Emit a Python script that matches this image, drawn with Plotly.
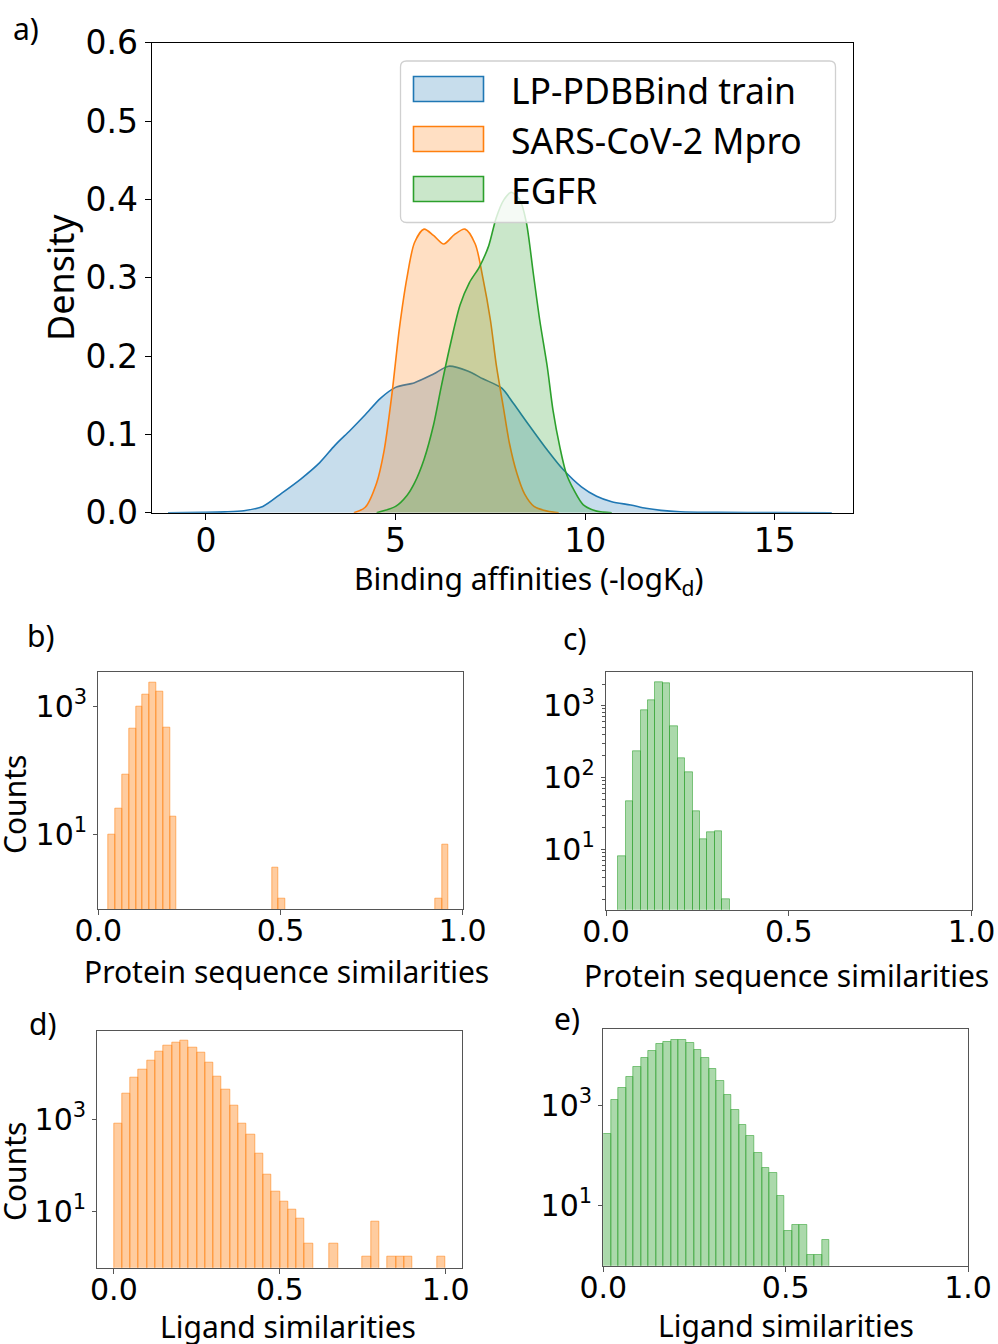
import numpy as np
import plotly.graph_objects as go

W, H = 998, 1344

# ---------------- data: panel a (KDE curves) ----------------
series_names = ["LP-PDBBind train", "SARS-CoV-2 Mpro", "EGFR"]
series_colors = [(31, 119, 180), (255, 127, 14), (44, 160, 44)]

lp_x = [-1.0, 0.0, 0.5, 1.0, 1.5, 2.0, 2.5, 3.0, 3.4, 3.8, 4.2, 4.6, 5.0, 5.5, 6.0, 6.4,
        6.9, 7.3, 7.8, 8.1, 8.5, 9.0, 9.4, 9.9, 10.3, 10.7, 11.2, 11.6, 12.0, 12.5, 13.5, 15.0, 16.5]
lp_y = [0.0, 0.0004, 0.001, 0.0025, 0.008, 0.025, 0.043, 0.064, 0.086, 0.105, 0.125, 0.146,
        0.160, 0.166, 0.177, 0.187, 0.181, 0.171, 0.159, 0.140, 0.113, 0.080, 0.056, 0.033,
        0.021, 0.014, 0.0098, 0.0056, 0.003, 0.0013, 0.0005, 0.0002, 0.0]

mpro_x = [3.9, 4.2, 4.5, 4.7, 4.9, 5.1, 5.3, 5.5, 5.75, 6.0, 6.27, 6.55, 6.83, 7.1, 7.3, 7.5,
          7.66, 7.84, 8.0, 8.2, 8.4, 8.65, 9.0, 9.3]
mpro_y = [0.0, 0.007, 0.038, 0.08, 0.15, 0.235, 0.300, 0.345, 0.362, 0.354, 0.343, 0.355,
          0.362, 0.343, 0.300, 0.246, 0.187, 0.135, 0.089, 0.050, 0.024, 0.008, 0.002, 0.0]

egfr_x = [4.5, 5.0, 5.3, 5.5, 5.75, 6.0, 6.2, 6.45, 6.7, 6.95, 7.2, 7.45, 7.65, 7.85, 8.05,
          8.28, 8.45, 8.63, 8.8, 9.0, 9.15, 9.33, 9.5, 9.7, 9.95, 10.3, 10.7]
egfr_y = [0.0, 0.008, 0.022, 0.038, 0.068, 0.112, 0.160, 0.216, 0.265, 0.294, 0.313, 0.340,
          0.376, 0.399, 0.409, 0.399, 0.370, 0.306, 0.246, 0.186, 0.131, 0.084, 0.050, 0.029,
          0.010, 0.002, 0.0]

# ---------------- data: histograms (bin start, bin width, counts) ----------------
b_start, b_width = 0.0284, 0.01866
b_counts = [10, 25, 84, 436, 975, 1520, 2340, 1660, 457, 19,
            0, 0, 0, 0, 0, 0, 0, 0, 0, 0,
            0, 0, 0, 0, 3, 1, 0, 0, 0, 0,
            0, 0, 0, 0, 0, 0, 0, 0, 0, 0,
            0, 0, 0, 0, 0, 0, 0, 0, 1, 7]

c_start, c_width = 0.0337, 0.0203
c_counts = [8, 47, 234, 870, 1200, 2080, 2060, 511, 187, 117, 34, 14, 17, 18, 2]

d_start, d_width = 0.0, 0.025
d_counts = [800, 3700, 8000, 12000, 19000, 30000, 41000, 47000, 50500, 37000,
            28000, 17000, 8400, 4400, 1950, 820, 460, 180, 63, 26,
            16, 11, 7, 2, 0, 0, 2, 0, 0, 0,
            1, 6, 0, 1, 1, 1, 0, 0, 0, 1]

e_start, e_width = 0.0, 0.0207
e_counts = [273, 1257, 2210, 3770, 5780, 9000, 12400, 17100, 19000, 20500,
            20200, 17600, 13000, 9000, 5350, 3140, 1630, 820, 406, 246,
            113, 57, 45, 15, 3, 4, 4, 1, 1, 2]

sim_ticks = [0.0, 0.5, 1.0]
aff_ticks = [0, 5, 10, 15]
dens_ticks = [0.0, 0.1, 0.2, 0.3, 0.4, 0.5, 0.6]

# ---------------- helpers ----------------
def px(x):
    return x / W

def py(y):
    return 1 - y / H

def rgba(c, a):
    return f"rgba({c[0]},{c[1]},{c[2]},{a})"

LABEL_FONT = "Noto Sans"
TICK_FONT = "DejaVu Sans"

fig = go.Figure()

# ---------------- panel a ----------------
for (xs, ys), col in zip([(lp_x, lp_y), (mpro_x, mpro_y), (egfr_x, egfr_y)], series_colors):
    fig.add_trace(go.Scatter(
        x=xs, y=ys, mode="lines",
        line=dict(color=rgba(col, 1), width=1.6, shape="spline", smoothing=0.8),
        fill="tozeroy", fillcolor=rgba(col, 0.25),
        xaxis="x", yaxis="y", hoverinfo="skip", showlegend=False))

# ---------------- histograms ----------------
hist_specs = [
    (b_start, b_width, b_counts, series_colors[1], "x2", "y2"),
    (c_start, c_width, c_counts, series_colors[2], "x3", "y3"),
    (d_start, d_width, d_counts, series_colors[1], "x4", "y4"),
    (e_start, e_width, e_counts, series_colors[2], "x5", "y5"),
]
for start, width, counts, col, xa, ya in hist_specs:
    counts = np.asarray(counts, dtype=float)
    centers = start + width * (np.arange(len(counts)) + 0.5)
    keep = counts > 0
    fig.add_trace(go.Bar(
        x=centers[keep], y=counts[keep], width=width,
        marker=dict(color=rgba(col, 0.4), line=dict(color=rgba(col, 0.55), width=1)),
        xaxis=xa, yaxis=ya, hoverinfo="skip", showlegend=False))

# ---------------- axes ----------------
def frame(color):
    return dict(showline=True, linecolor=color, linewidth=1.3, mirror=True, automargin=False,
                showgrid=False, zeroline=False, ticks="outside", tickcolor=color)

a_dom_x = [px(151.7), px(853)]
a_dom_y = [py(512.7), py(42.7)]

layout = dict(
    width=W, height=H, margin=dict(l=0, r=0, t=0, b=0, autoexpand=False),
    paper_bgcolor="white", plot_bgcolor="white", showlegend=False, bargap=0,
    xaxis=dict(domain=a_dom_x, anchor="y", range=[-1.43, 17.06], tickvals=aff_ticks,
               ticklen=6, tickwidth=1.3, ticklabelstandoff=-7,
               tickfont=dict(family=TICK_FONT, size=33, color="black"),
               **frame("black")),
    yaxis=dict(domain=a_dom_y, anchor="x", range=[0, 0.6], tickvals=dens_ticks, tickformat=".1f",
               ticklen=6, tickwidth=1.3, tickfont=dict(family=TICK_FONT, size=33, color="black"),
               **frame("black")),
)

hist_axes = [
    ("2", [98.3, 462.7], [671.7, 909.0], [0, 1], [-0.164, 3.535], [10, 1000]),
    ("3", [606.0, 971.5], [672.3, 909.7], [0, 1], [0.16, 3.464], [10, 100, 1000]),
    ("4", [97.3, 462.3], [1030.7, 1267.7], [-0.05, 1.05], [-0.229, 4.93], [10, 1000]),
    ("5", [603.3, 968.0], [1029.0, 1265.7], [0, 1], [-0.21, 4.53], [10, 1000]),
]
for k, dx, dy, xr, yr, ytv in hist_axes:
    layout["xaxis" + k] = dict(
        domain=[px(dx[0]), px(dx[1])], anchor="y" + k, range=xr, tickvals=sim_ticks,
        tickformat=".1f", ticklen=5, tickwidth=1.2, ticklabelstandoff=-10,
        tickfont=dict(family=TICK_FONT, size=30, color="black"), **frame("#555555"))
    ydict = dict(
        domain=[py(dy[1]), py(dy[0])], anchor="x" + k, type="log", range=yr, tickvals=ytv,
        ticktext=[f"10<sup>{int(round(np.log10(v)))}</sup>" for v in ytv],
        ticklen=4, tickwidth=1.2,
        tickfont=dict(family=TICK_FONT, size=30, color="black"), **frame("#555555"))
    if k == "3":
        minor_vals = [m * 10 ** e for e in range(0, 4) for m in range(2, 10) if m * 10 ** e < 3000]
        ydict["minor"] = dict(tickvals=minor_vals, ticks="outside", ticklen=2.5,
                              tickcolor="#555555", tickwidth=0.8)
    layout["yaxis" + k] = ydict

fig.update_layout(**layout)

# ---------------- legend (panel a) ----------------
lx0, lx1, ly0, ly1, r = 400.5, 835.5, 61.0, 222.5, 6.0
path = (f"M {px(lx0 + r)},{py(ly0)} L {px(lx1 - r)},{py(ly0)} "
        f"Q {px(lx1)},{py(ly0)} {px(lx1)},{py(ly0 + r)} L {px(lx1)},{py(ly1 - r)} "
        f"Q {px(lx1)},{py(ly1)} {px(lx1 - r)},{py(ly1)} L {px(lx0 + r)},{py(ly1)} "
        f"Q {px(lx0)},{py(ly1)} {px(lx0)},{py(ly1 - r)} L {px(lx0)},{py(ly0 + r)} "
        f"Q {px(lx0)},{py(ly0)} {px(lx0 + r)},{py(ly0)} Z")
shapes = [dict(type="path", path=path, xref="paper", yref="paper", layer="above",
               fillcolor="rgba(255,255,255,0.8)", line=dict(color="#d0d0d0", width=1.3))]
annotations = []
for i, (name, col) in enumerate(zip(series_names, series_colors)):
    yc = 89 + 50 * i
    shapes.append(dict(type="rect", xref="paper", yref="paper", layer="above",
                       x0=px(413.5), x1=px(483.5), y0=py(yc + 12.5), y1=py(yc - 12.5),
                       fillcolor=rgba(col, 0.25), line=dict(color=rgba(col, 1), width=1.6)))
    annotations.append(dict(text=name, x=px(509), y=py(yc + 1), xref="paper", yref="paper",
                            xanchor="left", yanchor="middle", showarrow=False,
                            font=dict(family=LABEL_FONT, size=35.5, color="black")))

def label(text, x, y, size, angle=0):
    annotations.append(dict(text=text, x=px(x), y=py(y), xref="paper", yref="paper",
                            xanchor="center", yanchor="middle", showarrow=False, textangle=angle,
                            font=dict(family=LABEL_FONT, size=size, color="black")))

# axis titles
label("Density", 60, 278, 36, -90)
label("Binding affinities (-logK<sub>d</sub>)", 528, 580, 30)
label("Protein sequence similarities", 286, 971, 30)
label("Protein sequence similarities", 786, 975, 30)
label("Ligand similarities", 288, 1326, 30)
label("Ligand similarities", 786, 1325, 30)
label("Counts", 14, 805, 30, -90)
label("Counts", 14, 1172, 30, -90)
# panel letters
label("a)", 26, 28, 30)
label("b)", 40, 635, 30)
label("c)", 574, 638, 30)
label("d)", 42, 1023, 30)
label("e)", 567, 1018, 30)

fig.update_layout(shapes=shapes, annotations=annotations)
fig.write_html("out.html")
